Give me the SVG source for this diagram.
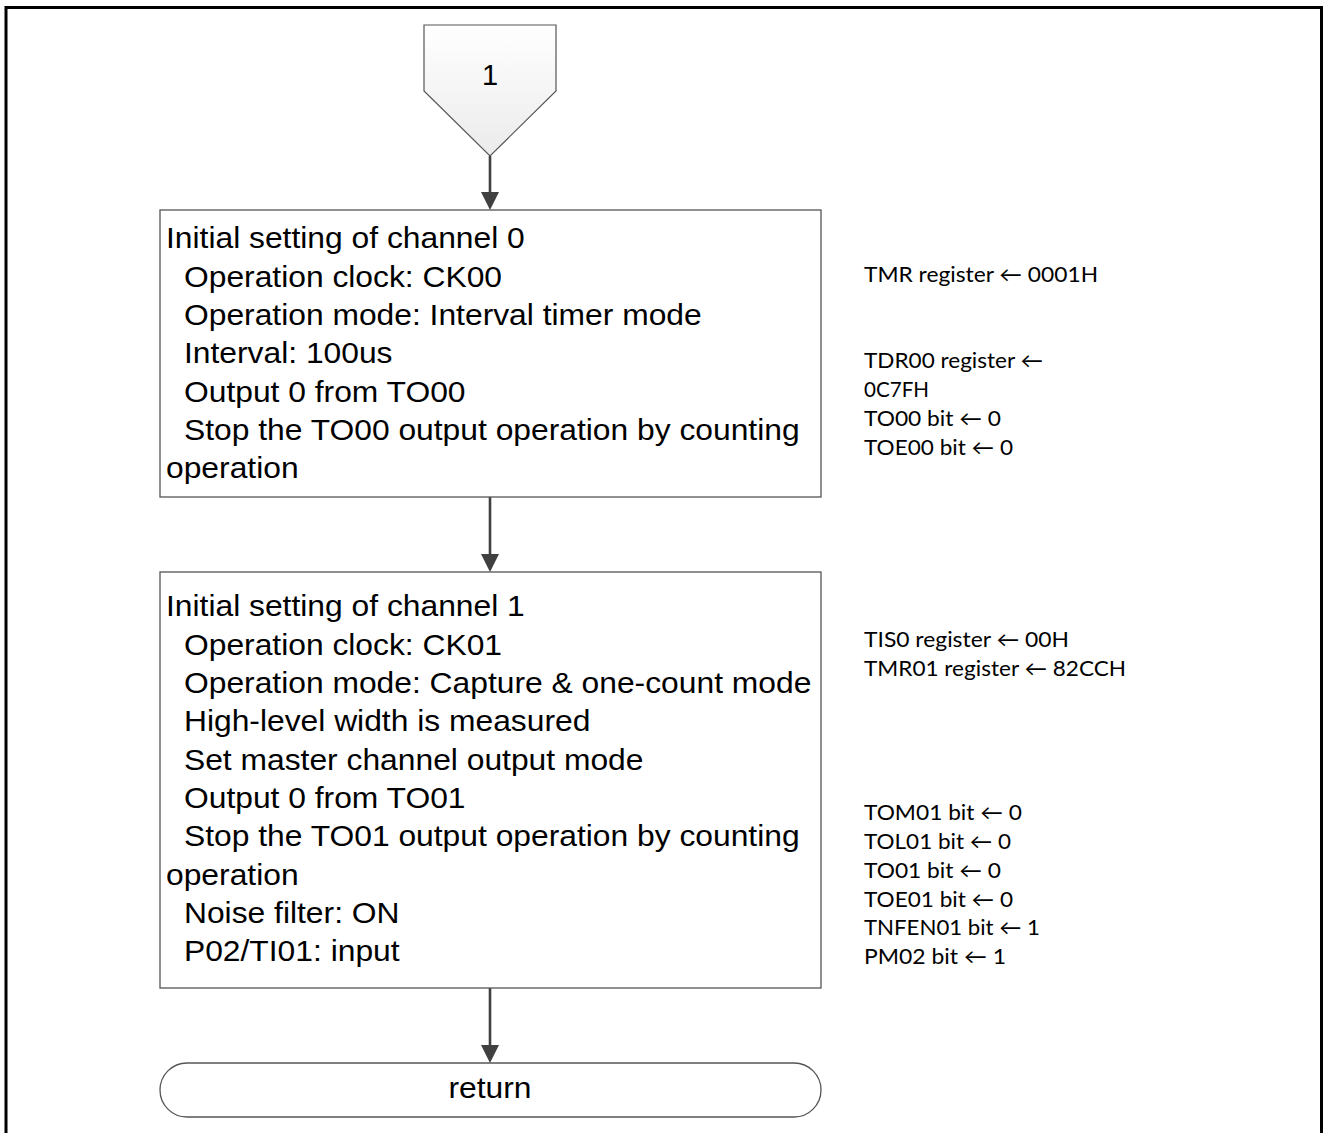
<svg xmlns="http://www.w3.org/2000/svg" width="1324" height="1133" viewBox="0 0 1324 1133">
<defs>
<linearGradient id="pg" x1="0" y1="0" x2="0" y2="1">
<stop offset="0" stop-color="#ffffff"/>
<stop offset="1" stop-color="#ebebeb"/>
</linearGradient>
<marker id="ah" markerWidth="18" markerHeight="18" viewBox="0 0 18 18" refX="9" refY="18" orient="auto-start-reverse" markerUnits="userSpaceOnUse">
<path d="M0,0 L18,0 L9,18 Z" fill="#404040"/>
</marker>
</defs>
<style>
.box{fill:#ffffff;stroke:#555555;stroke-width:1.3}
.bt{font-family:"Liberation Sans",Arial,sans-serif;font-size:29px;fill:#000000}
.rt{font-family:Lato,"Noto Sans",sans-serif;font-size:21px;fill:#000000}
.conn{stroke:#404040;stroke-width:2.6;fill:none}
</style>
<rect x="0" y="0" width="1324" height="1133" fill="#ffffff"/>
<polyline points="6,1133 6,7.5 1321.5,7.5 1321.5,1133" fill="none" stroke="#000000" stroke-width="3"/>

<g id="connectors">
<path class="conn" d="M490,156 V192"/>
<path d="M481,192 L499,192 L490,210 Z" fill="#404040"/>
<path class="conn" d="M490,497 V554"/>
<path d="M481,554 L499,554 L490,572 Z" fill="#404040"/>
<path class="conn" d="M490,988 V1045"/>
<path d="M481,1045 L499,1045 L490,1063 Z" fill="#404040"/>
</g>

<g id="node-start">
<path d="M424,25 H556 V91 L490,156 L424,91 Z" fill="url(#pg)" stroke="#555555" stroke-width="1.2"/>
<text class="bt" x="490" y="85" text-anchor="middle" font-size="30">1</text>
</g>

<g id="node-ch0">
<rect class="box" x="160" y="210" width="661" height="287"/>
<g transform="translate(166 0) scale(1.0966 1)">
<text class="bt" x="0" y="248.5">Initial setting of channel 0</text>
<text class="bt" x="16.4" y="286.8">Operation clock: CK00</text>
<text class="bt" x="16.4" y="325.1">Operation mode: Interval timer mode</text>
<text class="bt" x="16.4" y="363.4">Interval: 100us</text>
<text class="bt" x="16.4" y="401.7">Output 0 from TO00</text>
<text class="bt" x="16.4" y="440">Stop the TO00 output operation by counting</text>
<text class="bt" x="0" y="478.3">operation</text>
</g>
</g>

<g id="node-ch1">
<rect class="box" x="160" y="572" width="661" height="416"/>
<g transform="translate(166 0) scale(1.0966 1)">
<text class="bt" x="0" y="616.5">Initial setting of channel 1</text>
<text class="bt" x="16.4" y="654.8">Operation clock: CK01</text>
<text class="bt" x="16.4" y="693.1">Operation mode: Capture &amp; one-count mode</text>
<text class="bt" x="16.4" y="731.4">High-level width is measured</text>
<text class="bt" x="16.4" y="769.7">Set master channel output mode</text>
<text class="bt" x="16.4" y="808">Output 0 from TO01</text>
<text class="bt" x="16.4" y="846.3">Stop the TO01 output operation by counting</text>
<text class="bt" x="0" y="884.6">operation</text>
<text class="bt" x="16.4" y="922.9">Noise filter: ON</text>
<text class="bt" x="16.4" y="961.2">P02/TI01: input</text>
</g>
</g>

<g id="node-return">
<rect class="box" x="160" y="1063" width="661" height="54" rx="27" ry="27"/>
<g transform="translate(490 0) scale(1.0966 1)">
<text class="bt" x="0" y="1098" text-anchor="middle">return</text>
</g>
</g>

<g id="notes-ch0">
<text class="rt" x="864" y="282" textLength="234" lengthAdjust="spacingAndGlyphs">TMR register ← 0001H</text>
<text class="rt" x="864" y="368" textLength="179" lengthAdjust="spacingAndGlyphs">TDR00 register ←</text>
<text class="rt" x="864" y="397" textLength="65" lengthAdjust="spacingAndGlyphs">0C7FH</text>
<text class="rt" x="864" y="426" textLength="137" lengthAdjust="spacingAndGlyphs">TO00 bit ← 0</text>
<text class="rt" x="864" y="455" textLength="149" lengthAdjust="spacingAndGlyphs">TOE00 bit ← 0</text>
</g>

<g id="notes-ch1">
<text class="rt" x="864" y="647" textLength="205" lengthAdjust="spacingAndGlyphs">TIS0 register ← 00H</text>
<text class="rt" x="864" y="676" textLength="262" lengthAdjust="spacingAndGlyphs">TMR01 register ← 82CCH</text>
<text class="rt" x="864" y="820" textLength="158" lengthAdjust="spacingAndGlyphs">TOM01 bit ← 0</text>
<text class="rt" x="864" y="849" textLength="147" lengthAdjust="spacingAndGlyphs">TOL01 bit ← 0</text>
<text class="rt" x="864" y="878" textLength="137" lengthAdjust="spacingAndGlyphs">TO01 bit ← 0</text>
<text class="rt" x="864" y="907" textLength="149" lengthAdjust="spacingAndGlyphs">TOE01 bit ← 0</text>
<text class="rt" x="864" y="935" textLength="176" lengthAdjust="spacingAndGlyphs">TNFEN01 bit ← 1</text>
<text class="rt" x="864" y="964" textLength="142" lengthAdjust="spacingAndGlyphs">PM02 bit ← 1</text>
</g>
</svg>
